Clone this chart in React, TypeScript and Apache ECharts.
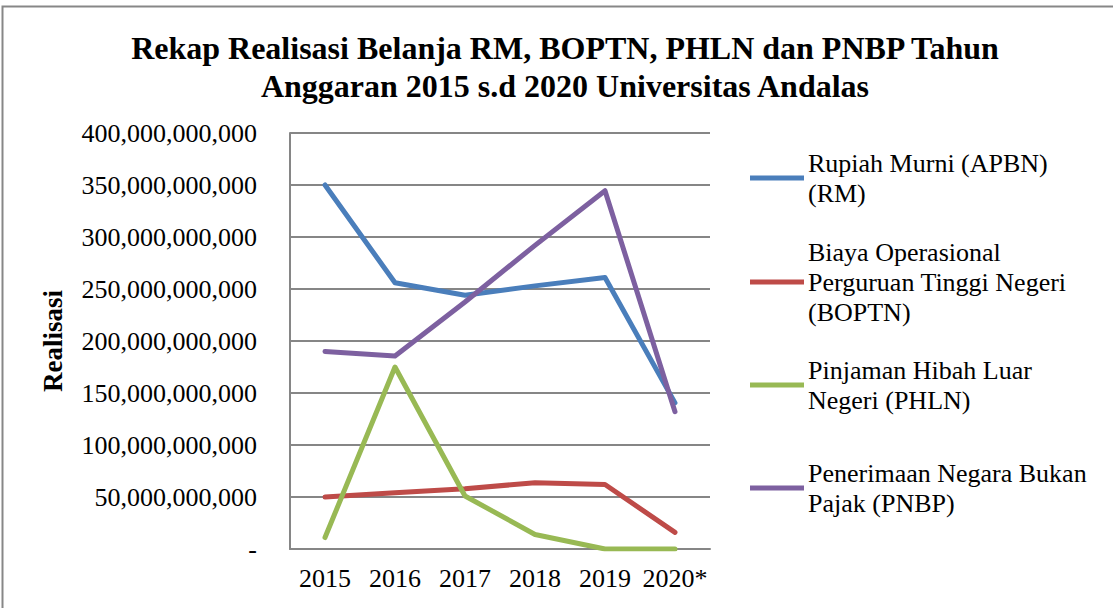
import React, { useEffect, useRef } from "react";
import * as echarts from "echarts";

const categories = ["2015", "2016", "2017", "2018", "2019", "2020*"];
const rmValues = [350e9, 256e9, 244e9, 253e9, 261e9, 140.5e9];
const boptnValues = [50e9, 54e9, 58e9, 63.7e9, 62e9, 16e9];
const phlnValues = [11e9, 175e9, 51e9, 14e9, 0, 0];
const pnbpValues = [190e9, 185.5e9, 237.5e9, 292e9, 344.5e9, 132e9];

const seriesNames = [
  "Rupiah Murni (APBN) (RM)",
  "Biaya Operasional Perguruan Tinggi Negeri (BOPTN)",
  "Pinjaman Hibah Luar Negeri (PHLN)",
  "Penerimaan Negara Bukan Pajak (PNBP)",
];
const legendLabels = [
  "Rupiah Murni (APBN)\n(RM)",
  "Biaya Operasional\nPerguruan Tinggi Negeri\n(BOPTN)",
  "Pinjaman Hibah Luar\nNegeri (PHLN)",
  "Penerimaan Negara Bukan\nPajak (PNBP)",
];
const colors = ["#4A7EBB", "#BE4B48", "#98B954", "#7D60A0"];
const legendIconY = [173, 277, 380, 483];

const FONT = "Liberation Serif";
const LH = 30;

export default function App() {
  const ref = useRef<HTMLDivElement>(null);
  useEffect(() => {
    if (!ref.current) return;
    const chart = echarts.init(ref.current, undefined, { renderer: "svg" });
    const dataArrays = [rmValues, boptnValues, phlnValues, pnbpValues];
    const legends = seriesNames.map((name, i) => {
      const n = legendLabels[i].split("\n").length;
      return {
        data: [name],
        left: 745,
        top: legendIconY[i] - ((2 * n - 1) * LH) / 2,
        orient: "vertical",
        itemWidth: 54,
        itemHeight: 5,
        itemGap: 0,
        icon: "rect",
        formatter: () => legendLabels[i],
        textStyle: {
          fontFamily: FONT,
          fontSize: 26,
          color: "#000",
          lineHeight: LH,
          padding: [(n - 1) * LH, 0, 0, -1],
        },
      };
    });
    chart.setOption({
      animation: false,
      backgroundColor: "#fff",
      title: {
        text: "Rekap Realisasi Belanja RM, BOPTN, PHLN dan PNBP Tahun\nAnggaran 2015 s.d 2020 Universitas Andalas",
        left: 560,
        textAlign: "center",
        top: 24,
        textStyle: {
          fontFamily: FONT,
          fontSize: 32,
          fontWeight: "bold",
          color: "#000",
          lineHeight: 38,
        },
      },
      graphic: [
        {
          type: "rect",
          shape: { x: 2.5, y: 6.5, width: 1300, height: 800 },
          style: { fill: "none", stroke: "#878787", lineWidth: 2 },
          silent: true,
        },
      ],
      legend: legends,
      grid: { left: 290, right: 403, top: 133, bottom: 59 },
      xAxis: {
        type: "category",
        data: categories,
        boundaryGap: true,
        axisLine: { show: true, lineStyle: { color: "#868686", width: 2 } },
        axisTick: { show: false },
        axisLabel: {
          fontFamily: FONT,
          fontSize: 26,
          color: "#000",
          margin: 16,
          interval: 0,
        },
      },
      yAxis: {
        type: "value",
        min: 0,
        max: 400e9,
        interval: 50e9,
        name: "Realisasi",
        nameLocation: "middle",
        nameGap: 224,
        nameRotate: 90,
        nameTextStyle: {
          fontFamily: FONT,
          fontSize: 27,
          fontWeight: "bold",
          color: "#000",
        },
        axisLine: { show: true, lineStyle: { color: "#868686", width: 2 } },
        axisTick: { show: false },
        splitLine: { show: true, lineStyle: { color: "#868686", width: 2 } },
        axisLabel: {
          fontFamily: FONT,
          fontSize: 26,
          color: "#000",
          margin: 33,
          formatter: (v: number) =>
            v === 0 ? "-" : Math.round(v).toLocaleString("en-US"),
        },
      },
      series: seriesNames.map((name, i) => ({
        name,
        type: "line",
        data: dataArrays[i],
        showSymbol: false,
        symbol: "none",
        color: colors[i],
        lineStyle: { width: 5, color: colors[i], cap: "round", join: "round" },
      })),
    });
    return () => chart.dispose();
  }, []);
  return (
    <div
      ref={ref}
      style={{ position: "fixed", left: 0, top: 0, width: 1113, height: 608 }}
    />
  );
}
